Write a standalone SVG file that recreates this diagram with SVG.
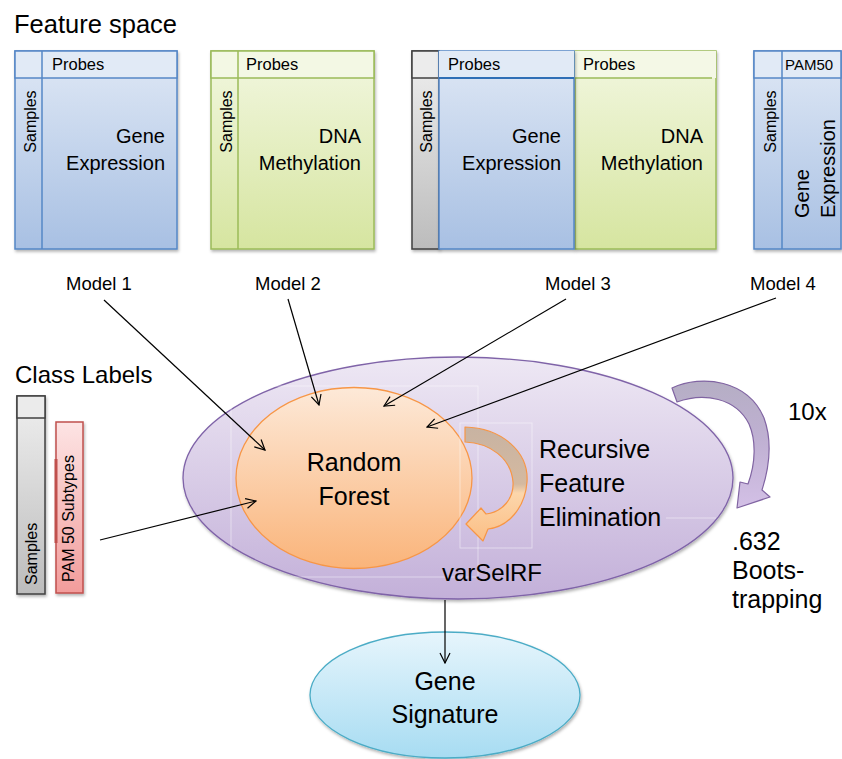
<svg xmlns="http://www.w3.org/2000/svg" width="842" height="759" viewBox="0 0 842 759">
  <style>
    text { font-family: "Liberation Sans", Arial, sans-serif; fill: #000; }
    .hd { font-size: 16.5px; }
    .sm { font-size: 16px; }
    .lbl { font-size: 18.5px; }
    .big { font-size: 20px; }
    .xl { font-size: 24px; }
    .xxl { font-size: 25px; }
    .blue { stroke: #5587c6; stroke-width: 1.5; }
    .green { stroke: #9bbb59; stroke-width: 1.5; }
    .gray { stroke: #404040; stroke-width: 1.5; }
    .pink { stroke: #c0504d; stroke-width: 1.5; }
    .conn { stroke: #000; stroke-width: 1.2; fill: none; marker-end: url(#vhead); }
    .ghost { fill: none; stroke: #ffffff; stroke-opacity: 0.45; stroke-width: 1; }
  </style>
  <defs>
    <linearGradient id="blueBody" x1="0" y1="0" x2="0" y2="1">
      <stop offset="0" stop-color="#dfe8f5"/>
      <stop offset="1" stop-color="#a8c0e3"/>
    </linearGradient>
    <linearGradient id="greenBody" x1="0" y1="0" x2="0" y2="1">
      <stop offset="0" stop-color="#f2f7e0"/>
      <stop offset="1" stop-color="#d6e5a0"/>
    </linearGradient>
    <linearGradient id="grayBody" x1="0" y1="0" x2="0" y2="1">
      <stop offset="0" stop-color="#efefef"/>
      <stop offset="1" stop-color="#bcbcbc"/>
    </linearGradient>
    <linearGradient id="pinkBody" x1="0" y1="0" x2="0" y2="1">
      <stop offset="0" stop-color="#fde4e4"/>
      <stop offset="1" stop-color="#f29c9b"/>
    </linearGradient>
    <linearGradient id="purpleFill" x1="0" y1="0" x2="0" y2="1">
      <stop offset="0" stop-color="#eee8f4"/>
      <stop offset="1" stop-color="#c3b0d9"/>
    </linearGradient>
    <linearGradient id="orangeFill" x1="0" y1="0" x2="0" y2="1">
      <stop offset="0" stop-color="#fde9d8"/>
      <stop offset="1" stop-color="#fab47a"/>
    </linearGradient>
    <linearGradient id="cyanFill" x1="0" y1="0" x2="0" y2="1">
      <stop offset="0" stop-color="#e6f5fc"/>
      <stop offset="1" stop-color="#a7dcf2"/>
    </linearGradient>
    <linearGradient id="orangeArrow" x1="0" y1="0" x2="0" y2="1">
      <stop offset="0" stop-color="#c8b3a2"/>
      <stop offset="0.5" stop-color="#d4b9a0"/>
      <stop offset="0.58" stop-color="#fcd6ab"/>
      <stop offset="1" stop-color="#fbbe85"/>
    </linearGradient>
    <linearGradient id="purpleArrow" x1="0" y1="0" x2="0" y2="1">
      <stop offset="0" stop-color="#b5aec4"/>
      <stop offset="0.45" stop-color="#bfb0d2"/>
      <stop offset="1" stop-color="#d3c0e6"/>
    </linearGradient>
    <filter id="shadow" x="-10%" y="-10%" width="130%" height="130%">
      <feDropShadow dx="1" dy="2" stdDeviation="1.5" flood-color="#000" flood-opacity="0.3"/>
    </filter>
    <marker id="vhead" viewBox="0 0 12 12" refX="11" refY="6" markerWidth="12" markerHeight="12" markerUnits="userSpaceOnUse" orient="auto">
      <path d="M1,1 L11,6 L1,11" fill="none" stroke="#000" stroke-width="1.2"/>
    </marker>
  </defs>

  <!-- section headings -->
  <text id="feature-space" x="14" y="33" style="font-size:25.5px">Feature space</text>
  <text id="class-labels" class="xl" x="15" y="383">Class Labels</text>

  <!-- Model 1: gene expression matrix -->
  <g id="model-1">
    <rect x="15" y="51" width="162" height="198" fill="url(#blueBody)" class="blue" filter="url(#shadow)"/>
    <rect x="15" y="51" width="162" height="27" fill="#e1eaf6" class="blue"/>
    <line x1="42" y1="51" x2="42" y2="249" class="blue"/>
    <text class="hd" x="52" y="70">Probes</text>
    <text class="sm" transform="translate(36,121.5) rotate(-90)" text-anchor="middle">Samples</text>
    <text class="big" x="165" y="143" text-anchor="end">Gene</text>
    <text class="big" x="165" y="170" text-anchor="end">Expression</text>
    <text class="lbl" x="99" y="290" text-anchor="middle">Model 1</text>
  </g>

  <!-- Model 2: methylation matrix -->
  <g id="model-2">
    <rect x="211" y="51" width="163" height="198" fill="url(#greenBody)" class="green" filter="url(#shadow)"/>
    <rect x="211" y="51" width="163" height="27" fill="#f3f8e4" class="green"/>
    <line x1="238" y1="51" x2="238" y2="249" class="green"/>
    <text class="hd" x="246" y="70">Probes</text>
    <text class="sm" transform="translate(232,121.5) rotate(-90)" text-anchor="middle">Samples</text>
    <text class="big" x="361" y="143" text-anchor="end">DNA</text>
    <text class="big" x="361" y="170" text-anchor="end">Methylation</text>
    <text class="lbl" x="288" y="290" text-anchor="middle">Model 2</text>
  </g>

  <!-- Model 3: combined expression + methylation -->
  <g id="model-3">
    <rect x="412" y="51" width="27" height="198" fill="url(#grayBody)" class="gray" filter="url(#shadow)"/>
    <rect x="412" y="51" width="27" height="27" fill="#ececec" class="gray"/>
    <rect x="575" y="51" width="141" height="198" fill="url(#greenBody)" class="green" filter="url(#shadow)"/>
    <rect x="575" y="51" width="141" height="27" fill="#f4f8e6" stroke="none"/>
    <line x1="575" y1="78" x2="712" y2="78" class="green"/>
    <rect x="439" y="51" width="135" height="198" fill="url(#blueBody)" class="blue" filter="url(#shadow)"/>
    <rect x="439" y="51" width="135" height="27" fill="#e1eaf6" stroke="none"/>
    <line x1="439" y1="78" x2="574" y2="78" stroke="#2f6fb6" stroke-width="2"/>
    <text class="hd" x="448" y="70">Probes</text>
    <text class="hd" x="583" y="70">Probes</text>
    <text class="sm" transform="translate(432,121.5) rotate(-90)" text-anchor="middle">Samples</text>
    <text class="big" x="561" y="143" text-anchor="end">Gene</text>
    <text class="big" x="561" y="170" text-anchor="end">Expression</text>
    <text class="big" x="703" y="143" text-anchor="end">DNA</text>
    <text class="big" x="703" y="170" text-anchor="end">Methylation</text>
    <text class="lbl" x="578" y="290" text-anchor="middle">Model 3</text>
  </g>

  <!-- Model 4: PAM50 gene expression -->
  <g id="model-4">
    <rect x="754" y="51" width="87" height="198" fill="url(#blueBody)" class="blue" filter="url(#shadow)"/>
    <rect x="754" y="51" width="87" height="27" fill="#e1eaf6" class="blue"/>
    <line x1="782" y1="51" x2="782" y2="249" class="blue"/>
    <text x="785" y="70" style="font-size:15px">PAM50</text>
    <text class="sm" transform="translate(776,121.5) rotate(-90)" text-anchor="middle">Samples</text>
    <text class="big" transform="translate(809,218) rotate(-90)">Gene</text>
    <text class="big" transform="translate(835,218) rotate(-90)">Expression</text>
    <text class="lbl" x="783" y="290" text-anchor="middle">Model 4</text>
  </g>

  <!-- class label vectors -->
  <g id="class-vectors">
    <rect x="17" y="396" width="28" height="198" fill="url(#grayBody)" class="gray" filter="url(#shadow)"/>
    <rect x="17" y="396" width="28" height="22" fill="#ebebeb" class="gray"/>
    <text class="sm" transform="translate(37,585) rotate(-90)">Samples</text>
    <rect x="56" y="422" width="27" height="171" fill="url(#pinkBody)" class="pink" filter="url(#shadow)"/>
    <line x1="56" y1="459" x2="56" y2="543" stroke="#c0504d" stroke-width="3"/>
    <text class="sm" transform="translate(74,582) rotate(-90)">PAM 50 Subtypes</text>
  </g>

  <!-- varSelRF wrapper -->
  <g id="varselrf">
    <ellipse cx="458" cy="478" rx="275" ry="121" fill="url(#purpleFill)" stroke="#7f63a8" stroke-width="1.3" filter="url(#shadow)"/>
    <rect x="231" y="386" width="247" height="191" class="ghost"/>
    <line x1="666" y1="518" x2="716" y2="518" class="ghost"/>
    <text class="xl" x="442" y="581">varSelRF</text>
  </g>

  <!-- random forest core -->
  <g id="random-forest">
    <ellipse cx="354" cy="478" rx="118" ry="90.5" fill="url(#orangeFill)" stroke="#f79646" stroke-width="1.3"/>
    <text class="xxl" x="354" y="471" text-anchor="middle">Random</text>
    <text class="xxl" x="354" y="505" text-anchor="middle">Forest</text>
  </g>

  <!-- recursive elimination loop -->
  <g id="rfe">
    <rect x="460" y="423" width="72" height="125" class="ghost"/>
    <path d="M465,427 C502,428 529,452 527,482 C525,508 508,527 488,529 L483,541 L466,524 L481,508 L486,514 C503,512 514,498 513,482 C511,458 490,443 465,442 Z" fill="url(#orangeArrow)" stroke="#f79646" stroke-width="1.2" stroke-linejoin="round"/>
    <text class="xxl" x="539" y="458">Recursive</text>
    <text class="xxl" x="539" y="492">Feature</text>
    <text class="xxl" x="539" y="526">Elimination</text>
  </g>

  <!-- bootstrap loop -->
  <g id="bootstrap">
    <path d="M672,388 C702,374 748,380 764,418 C772,440 770,465 762,490 L770,497 L737,508 L740,482 L748,484 C756,462 756,440 749,424 C736,398 704,392 677,402 Z" fill="url(#purpleArrow)" stroke="#8064a2" stroke-width="1.2" stroke-linejoin="round"/>
    <text class="xl" x="788" y="420">10x</text>
    <text class="xxl" x="732" y="550">.632</text>
    <text class="xxl" x="732" y="579">Boots-</text>
    <text class="xxl" x="732" y="608">trapping</text>
  </g>

  <!-- output -->
  <g id="gene-signature">
    <ellipse cx="445" cy="695" rx="135" ry="63" fill="url(#cyanFill)" stroke="#4bacc6" stroke-width="1.3" filter="url(#shadow)"/>
    <text class="xxl" x="445" y="690" text-anchor="middle">Gene</text>
    <text class="xxl" x="445" y="723" text-anchor="middle">Signature</text>
  </g>

  <!-- connectors -->
  <g id="connectors">
    <line class="conn" x1="104" y1="300" x2="265" y2="450"/>
    <line class="conn" x1="288" y1="299" x2="319" y2="405"/>
    <line class="conn" x1="566" y1="299" x2="384" y2="406"/>
    <line class="conn" x1="776" y1="298" x2="427" y2="427"/>
    <line class="conn" x1="100" y1="540" x2="256" y2="501"/>
    <line class="conn" x1="445" y1="600" x2="445" y2="663"/>
  </g>
</svg>
